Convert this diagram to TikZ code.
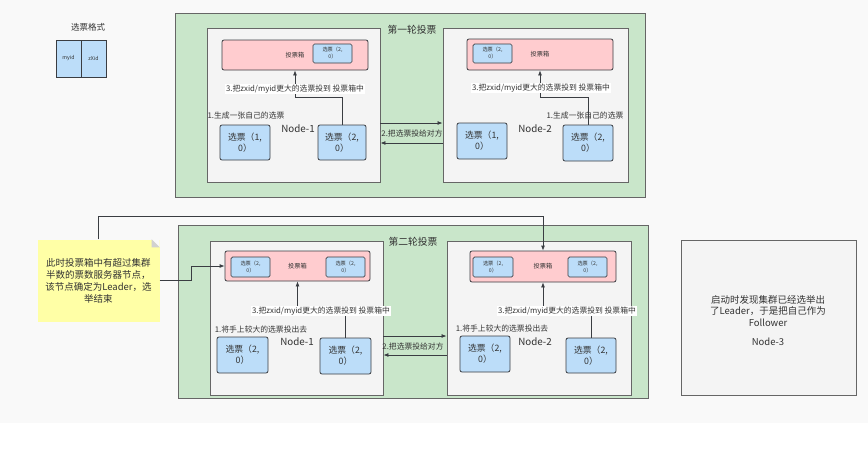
\documentclass[tikz,border=0pt]{standalone}
\usepackage{fontspec}
\setmainfont{Noto Sans CJK SC}
\usetikzlibrary{arrows.meta, positioning, calc}
\definecolor{zkBg}{HTML}{F9F9F9}
\definecolor{zkGreen}{HTML}{C9E6CA}
\definecolor{zkGray}{HTML}{F4F4F4}
\definecolor{zkPink}{HTML}{FFCCCF}
\definecolor{zkBlue}{HTML}{BCDDF9}
\definecolor{zkNote}{HTML}{FFFFA6}
\definecolor{zkLine}{HTML}{666666}
\definecolor{zkDark}{HTML}{3A3D42}

\begin{document}
\begin{tikzpicture}[x=1pt, y=-1pt, every node/.style={inner sep=0pt, text=black!80},
    round/.style={draw=zkLine, fill=zkGreen, line width=0.9pt},
    host/.style={draw=zkLine, fill=zkGray, line width=0.9pt},
    box/.style={draw=zkDark, fill=zkPink, line width=0.8pt, rounded corners=2pt, font=\fontsize{6.2}{7}\selectfont},
    vote/.style={draw=zkDark, fill=zkBlue, line width=0.8pt, rounded corners=2pt, align=center,
                 font=\fontsize{8.8}{11}\selectfont},
    svote/.style={draw=zkDark, fill=zkBlue, line width=0.7pt, rounded corners=1.5pt, align=center,
                  font=\fontsize{5.2}{7}\selectfont},
    lbl/.style={font=\fontsize{7.8}{9}\selectfont},
    step lbl/.style={lbl, fill=white, inner sep=1pt},
    arr/.style={-{Latex[length=5pt, width=4pt]}, draw=zkDark, line width=0.8pt}]

  \fill[zkBg] (0,0) rectangle (868,423);
  \useasboundingbox (0,0) rectangle (868,474);

  % legend
  \node[font=\fontsize{8.5}{10}\selectfont] (fmt) at (88,27) {选票格式};
  \node[svote, rounded corners=0pt, minimum width=25pt, minimum height=37pt] (fmtA) at (68.5,58.5) {myid};
  \node[svote, rounded corners=0pt, minimum width=25pt, minimum height=37pt] (fmtB) at (93.5,58.5) {zXid};

  % round 1
  \node[round, minimum width=470pt, minimum height=184pt] (r1) at (410,105) {};
  \node[font=\fontsize{9.8}{11}\selectfont] (r1title) at (412,30) {第一轮投票};

  \node[host, minimum width=173pt, minimum height=154pt] (n1) at (293.5,105) {};
  \node[box, minimum width=146pt, minimum height=30pt] (b1) at (295,55) {投票箱};
  \node[svote, minimum width=39pt, minimum height=19pt] (b1v) at (332.5,53.5) {选票（2,\\0）};
  \node[vote, minimum width=50pt, minimum height=35pt] (v11) at (245,142.5) {选票（1,\\0）};
  \node[vote, minimum width=48pt, minimum height=35pt] (v12) at (342,142.5) {选票（2,\\0）};
  \node[lbl] (g1) at (246,116) {1.生成一张自己的选票};
  \node[font=\fontsize{9.8}{11}\selectfont] (n1name) at (298,129) {Node-1};
  \draw[arr] (v12.north) |- ([yshift=-27pt]b1.south) -- (b1.south);
  \node[step lbl] (s1) at (295,89) {3.把zxid/myid更大的选票投到 投票箱中};

  \node[host, minimum width=185pt, minimum height=154pt] (n2) at (535.5,105) {};
  \node[box, minimum width=146pt, minimum height=31pt] (b2) at (540,54.5) {投票箱};
  \node[svote, minimum width=39pt, minimum height=19pt] (b2v) at (492.5,53.5) {选票（2,\\0）};
  \node[vote, minimum width=50pt, minimum height=36pt] (v21) at (482,141) {选票（1,\\0）};
  \node[vote, minimum width=50pt, minimum height=36pt] (v22) at (588,143) {选票（2,\\0）};
  \node[lbl] (g2) at (585,116) {1.生成一张自己的选票};
  \node[font=\fontsize{9.8}{11}\selectfont] (n2name) at (535,129) {Node-2};
  \draw[arr] (v22.north) |- ([yshift=-27pt]b2.south) -- (b2.south);
  \node[step lbl] (s2) at (541,88) {3.把zxid/myid更大的选票投到 投票箱中};

  \draw[arr] ([yshift=-18pt]n1.east) -- ([yshift=-18pt]n2.west);
  \draw[arr] ([yshift=-38pt]n2.west) -- ([yshift=-38pt]n1.east);
  \node[lbl] (x1) at (412,134) {2.把选票投给对方};

  % round 2
  \node[round, minimum width=470pt, minimum height=173pt] (r2) at (413,311.5) {};
  \node[font=\fontsize{9.8}{11}\selectfont] (r2title) at (413,242) {第二轮投票};

  \node[host, minimum width=173pt, minimum height=154pt] (m1) at (296.5,318) {};
  \node[box, minimum width=145pt, minimum height=30pt] (c1) at (297.5,266) {投票箱};
  \node[svote, minimum width=39pt, minimum height=20pt] (c1a) at (250.5,267) {选票（2,\\0）};
  \node[svote, minimum width=39pt, minimum height=20pt] (c1b) at (345.5,267) {选票（2,\\0）};
  \node[vote, minimum width=51pt, minimum height=36pt] (w11) at (242.5,355) {选票（2,\\0）};
  \node[vote, minimum width=51pt, minimum height=36pt] (w12) at (345.5,356) {选票（2,\\0）};
  \node[lbl] (h1) at (261,330) {1.将手上较大的选票投出去};
  \node[font=\fontsize{9.8}{11}\selectfont] (m1name) at (297,342) {Node-1};
  \draw[arr] (w12.north) |- ([yshift=-30pt]c1.south) -- (c1.south);
  \node[step lbl] (t1) at (321,311) {3.把zxid/myid更大的选票投到 投票箱中};

  \node[host, minimum width=184pt, minimum height=154pt] (m2) at (539,318) {};
  \node[box, minimum width=146pt, minimum height=31pt] (c2) at (543,266.5) {投票箱};
  \node[svote, minimum width=40pt, minimum height=20pt] (c2a) at (493,267) {选票（2,\\0）};
  \node[svote, minimum width=39pt, minimum height=20pt] (c2b) at (587.5,267) {选票（2,\\0）};
  \node[vote, minimum width=50pt, minimum height=36pt] (w21) at (485,354) {选票（2,\\0）};
  \node[vote, minimum width=50pt, minimum height=35pt] (w22) at (591,355.5) {选票（2,\\0）};
  \node[lbl] (h2) at (502,329) {1.将手上较大的选票投出去};
  \node[font=\fontsize{9.8}{11}\selectfont] (m2name) at (535,342) {Node-2};
  \draw[arr] (w22.north) |- ([yshift=-29pt]c2.south) -- (c2.south);
  \node[step lbl] (t2) at (567,311) {3.把zxid/myid更大的选票投到 投票箱中};

  \draw[arr] ([yshift=-18pt]m1.east) -- ([yshift=-18pt]m2.west);
  \draw[arr] ([yshift=-37pt]m2.west) -- ([yshift=-37pt]m1.east);
  \node[lbl] (x2) at (413,347) {2.把选票投给对方};

  % note
  \node[fill=zkNote, minimum width=122pt, minimum height=82pt, align=center,
        font=\fontsize{9.5}{12}\selectfont] (note) at (98.5,280.5)
        {此时投票箱中有超过集群\\半数的票数服务器节点，\\该节点确定为Leader，选\\举结束};
  \fill[zkBg] ([xshift=-8pt]note.north east) -- (note.north east) -- ([yshift=-8pt]note.north east) -- cycle;
  \fill[black!18] ([xshift=-8pt]note.north east) -- ([xshift=-8pt,yshift=-8pt]note.north east)
        -- ([yshift=-8pt]note.north east) -- cycle;
  \draw[arr] (note.east) -- ++(32,0) |- (c1.west);
  \draw[arr] (note.north) |- ([yshift=34pt]c2.north) -- (c2.north);

  % node 3
  \node[host, minimum width=175pt, minimum height=155pt] (n3) at (768.5,317.5) {};
  \node[align=center, font=\fontsize{9.5}{11.5}\selectfont] (n3text) at (768,311)
        {启动时发现集群已经选举出\\了Leader，于是把自己作为\\Follower};
  \node[font=\fontsize{9.5}{11}\selectfont] (n3name) at (768,342) {Node-3};
\end{tikzpicture}
\end{document}
